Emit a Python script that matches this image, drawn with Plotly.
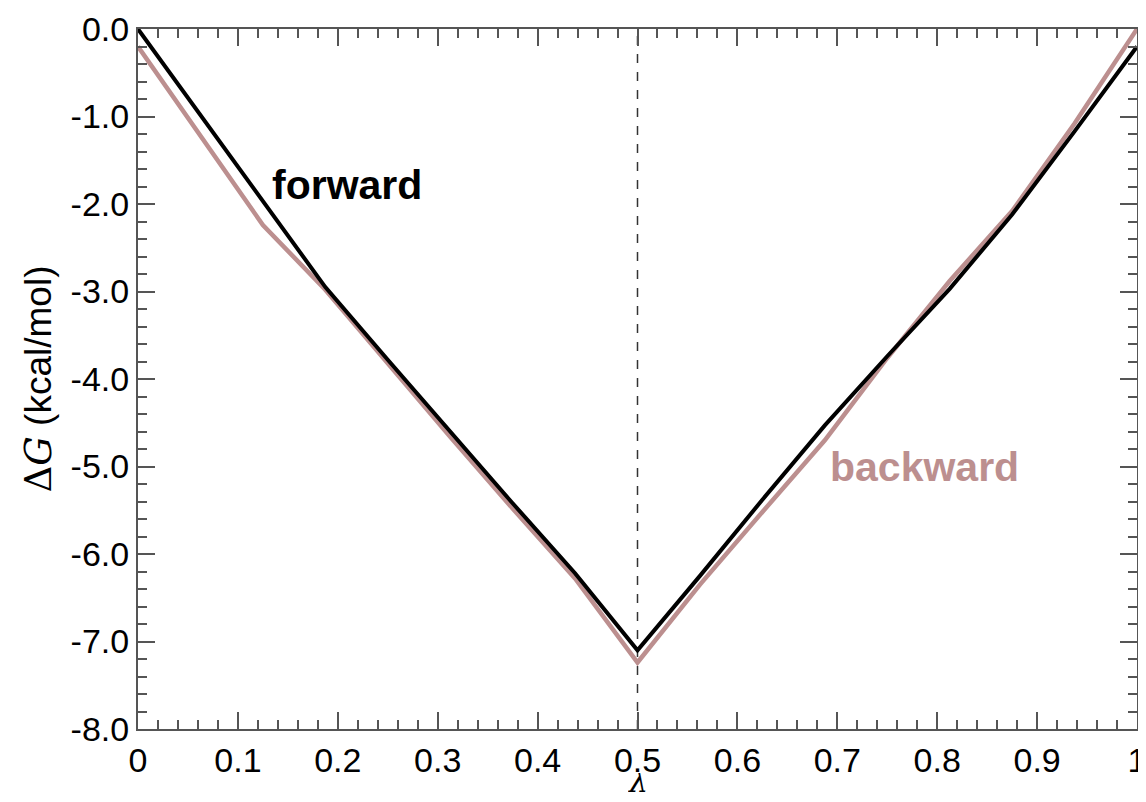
import plotly.graph_objects as go

lam = [0, 0.0625, 0.125, 0.1875, 0.25, 0.3125, 0.375, 0.4375, 0.5,
       0.5625, 0.625, 0.6875, 0.75, 0.8125, 0.875, 0.9375, 1.0]
forward = [0.0, -0.98, -1.96, -2.95, -3.78, -4.60, -5.42, -6.22, -7.10,
           -6.25, -5.38, -4.53, -3.74, -2.97, -2.12, -1.17, -0.20]
backward = [-0.20, -1.22, -2.24, -2.98, -3.82, -4.66, -5.48, -6.28, -7.24,
            -6.35, -5.52, -4.70, -3.76, -2.88, -2.08, -1.08, 0.0]

xticks = [0, 0.1, 0.2, 0.3, 0.4, 0.5, 0.6, 0.7, 0.8, 0.9, 1.0]
xticklabels = ["0", "0.1", "0.2", "0.3", "0.4", "0.5", "0.6", "0.7", "0.8", "0.9", "1"]
yticks = [0, -1, -2, -3, -4, -5, -6, -7, -8]
yticklabels = ["0.0", "-1.0", "-2.0", "-3.0", "-4.0", "-5.0", "-6.0", "-7.0", "-8.0"]

ROSY = "#BC8F8F"
AX = "#555555"
FONT = "Liberation Sans, Arial, Helvetica, sans-serif"
SERIF = "DejaVu Serif, serif"

fig = go.Figure()
fig.add_trace(go.Scatter(x=lam, y=backward, mode="lines",
                         line=dict(color=ROSY, width=4.5), showlegend=False))
fig.add_trace(go.Scatter(x=lam, y=forward, mode="lines",
                         line=dict(color="black", width=4), showlegend=False))

fig.add_shape(type="line", x0=0.5, x1=0.5, y0=-8, y1=0, xref="x", yref="y",
              line=dict(color="#333333", width=1.5, dash="dash"), layer="below")

fig.add_annotation(x=0.132, y=-1.78, text="<b>forward</b>", showarrow=False,
                   xanchor="left", yanchor="middle",
                   font=dict(family=FONT, size=41, color="black"))
fig.add_annotation(x=0.691, y=-5.0, text="<b>backward</b>", showarrow=False,
                   xanchor="left", yanchor="middle",
                   font=dict(family=FONT, size=41, color=ROSY))

# x-axis title (λ), placed at the bottom edge as in the reference
fig.add_annotation(x=0.5, xref="paper", y=-0.101, yref="paper", text="<i>λ</i>",
                   showarrow=False, xanchor="center", yanchor="bottom",
                   height=26, valign="bottom", borderpad=0,
                   font=dict(family=SERIF, size=30, color="black"))

axis_common = dict(
    showgrid=False, zeroline=False, showline=True, linecolor=AX, linewidth=2,
    ticks="inside", ticklen=17, tickwidth=2, tickcolor=AX, mirror="ticks",
    tickfont=dict(family=FONT, size=34, color="black"), automargin=False,
    ticklabeloverflow="allow",
)

fig.update_xaxes(
    range=[0, 1], tickvals=xticks, ticktext=xticklabels,
    minor=dict(dtick=0.02, ticklen=9, tickwidth=2, tickcolor=AX, ticks="inside"),
    **axis_common,
)
fig.update_yaxes(
    range=[-8, 0], tickvals=yticks, ticktext=yticklabels,
    minor=dict(dtick=0.2, ticklen=9, tickwidth=2, tickcolor=AX, ticks="inside"),
    title=dict(text="<span style='font-family:DejaVu Serif, serif'>Δ<i>G</i></span> (kcal/mol)",
               font=dict(family=FONT, size=37, color="black"), standoff=8),
    **axis_common,
)

# the page body adds an 8px offset, so the figure is 8px smaller on each axis
fig.update_layout(
    width=1138, height=794,
    margin=dict(l=130, r=9, t=21, b=73),
    paper_bgcolor="white", plot_bgcolor="white",
)

fig.write_html("out.html")
